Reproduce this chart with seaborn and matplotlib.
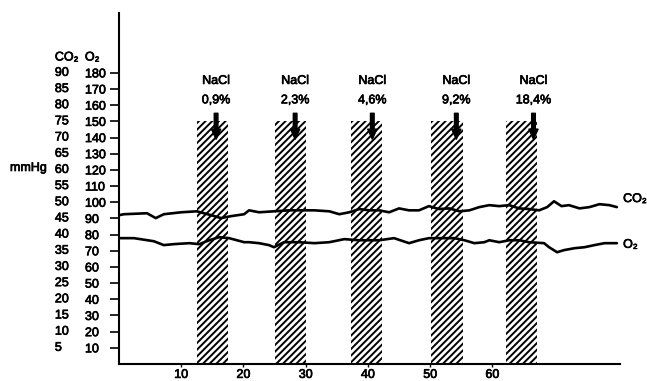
import numpy as np
import pandas as pd
import seaborn as sns
import matplotlib.pyplot as plt
import matplotlib.patheffects as pe

# time axis (min) and traces
co2_x = [0.0, 0.8, 4.5, 5.9, 7.2, 10.0, 12.5, 14.8, 16.4, 18.0, 20.1, 20.9, 22.5, 24.9,
         27.3, 29.7, 31.4, 33.8, 35.4, 37.0, 38.6, 40.2, 41.8, 43.4, 45.0, 46.6, 48.2,
         49.8, 51.4, 53.1, 54.7, 56.3, 57.9, 59.5, 61.1, 62.7, 64.3, 65.9, 67.5, 68.8,
         69.9, 71.1, 72.3, 74.0, 75.6, 77.2, 78.8, 80.0]
co2_y = [46.0, 46.3, 46.6, 45.1, 46.3, 46.9, 47.2, 46.0, 45.1, 45.7, 46.3, 47.5, 46.9, 47.2,
         47.5, 47.5, 47.5, 47.2, 46.3, 46.9, 47.9, 47.5, 47.5, 46.9, 48.1, 47.5, 47.5,
         48.8, 47.9, 48.1, 47.2, 47.5, 48.5, 49.1, 48.8, 49.1, 48.1, 47.9, 47.5, 48.5,
         50.3, 48.8, 49.1, 48.1, 48.5, 49.4, 49.1, 48.5]

o2_x = [0.0, 2.4, 5.6, 7.2, 8.8, 11.3, 12.9, 14.5, 16.1, 17.7, 20.1, 20.9, 22.5, 24.1,
        24.9, 26.5, 28.9, 31.4, 33.8, 36.2, 38.6, 40.2, 41.8, 44.2, 46.6, 48.2, 49.8,
        52.3, 53.9, 55.5, 57.1, 58.7, 59.5, 61.1, 62.7, 64.3, 65.9, 68.3, 69.1, 70.4,
        71.5, 73.2, 74.8, 76.4, 78.0, 80.0]
o2_y = [77.8, 77.8, 75.9, 73.5, 74.1, 74.7, 74.1, 76.5, 78.4, 77.8, 75.3, 75.3, 74.7, 73.5,
        72.2, 75.3, 75.3, 74.7, 75.3, 77.2, 76.5, 76.5, 76.5, 77.8, 74.7, 76.5, 77.8,
        77.8, 77.8, 76.5, 74.7, 75.3, 76.5, 75.3, 76.5, 76.5, 75.3, 74.7, 72.2, 69.1,
        70.4, 71.6, 72.2, 73.5, 74.7, 74.7]

# NaCl infusions
nacl_labels = ["0,9%", "2,3%", "4,6%", "9,2%", "18,4%"]
band_start = [12.5, 25.0, 37.2, 50.2, 62.2]
band_width = 5.0
band_top = 150
arrow_x = [15.6, 28.3, 40.7, 54.2, 66.6]

o2_ticks = list(range(10, 190, 10))
co2_ticks = list(range(5, 95, 5))
x_ticks = [10, 20, 30, 40, 50, 60]

sns.set_theme(style="white")
plt.rcParams['font.family'] = ['Liberation Sans', 'DejaVu Sans']
plt.rcParams['text.color'] = 'black'
plt.rcParams['xtick.color'] = 'black'
plt.rcParams['ytick.color'] = 'black'
plt.rcParams['hatch.linewidth'] = 1.4
plt.rcParams['hatch.color'] = 'black'

fig = plt.figure(figsize=(6.47, 3.81), dpi=100)
ax = fig.add_axes([119/647, 1-364/381, 501/647, 351/381])

fs = 9
heavy = [pe.withStroke(linewidth=0.5, foreground="black")]  # scanned print looks heavier

ax.bar(band_start, [band_top]*len(band_start), width=band_width, align='edge',
       color='white', edgecolor='black', hatch='/////', linewidth=0, zorder=1)

df_co2 = pd.DataFrame({"t": co2_x, "val": np.array(co2_y) * 2})  # CO2 scale is half of O2 scale
df_o2 = pd.DataFrame({"t": o2_x, "val": o2_y})
sns.lineplot(data=df_co2, x="t", y="val", color="black", lw=1.9, ax=ax, zorder=3)
sns.lineplot(data=df_o2, x="t", y="val", color="black", lw=1.9, ax=ax, zorder=3)

texts = []
for xa, lab in zip(arrow_x, nacl_labels):
    ax.annotate("", xy=(xa, 139), xytext=(xa, 155),
                arrowprops=dict(arrowstyle="simple,head_width=0.55,head_length=0.6,tail_width=0.22",
                                color="black", shrinkA=0, shrinkB=0), zorder=4)
    texts.append(ax.text(xa, 175, "NaCl", ha="center", va="center", fontsize=fs))
    texts.append(ax.text(xa, 163, lab, ha="center", va="center", fontsize=fs))

texts.append(ax.text(81.0, co2_y[-1] * 2 + 5, "CO₂", ha="left", va="center", fontsize=fs, clip_on=False))
texts.append(ax.text(81.0, o2_y[-1] - 1, "O₂", ha="left", va="center", fontsize=fs, clip_on=False))

ax.set_xlim(0, 80.5)
ax.set_ylim(0, 217)
ax.set_xlabel("")
ax.set_ylabel("")

ax.set_yticks(o2_ticks)
ax.set_yticklabels([str(v) for v in o2_ticks], fontsize=fs)
for lbl in ax.get_yticklabels():
    lbl.set_horizontalalignment("left")
ax.tick_params(axis="y", direction="out", length=6.5, width=1.2, pad=18, left=True)

ax.set_xticks(x_ticks)
ax.set_xticklabels([str(v) for v in x_ticks], fontsize=fs)
ax.tick_params(axis="x", direction="out", length=2, width=1, pad=1.5, bottom=True)

for v in co2_ticks:
    texts.append(ax.text(-0.128, v * 2, str(v), transform=ax.get_yaxis_transform(),
                         ha="left", va="center", fontsize=fs))
texts.append(ax.text(-0.128, 189.5, "CO₂", transform=ax.get_yaxis_transform(), ha="left", va="center", fontsize=fs))
texts.append(ax.text(-0.068, 189.5, "O₂", transform=ax.get_yaxis_transform(), ha="left", va="center", fontsize=fs))
texts.append(fig.text(10/647, 1-168/381, "mmHg", ha="left", va="center", fontsize=fs))

for t in texts + ax.get_yticklabels() + ax.get_xticklabels():
    t.set_path_effects(heavy)

sns.despine(ax=ax)
for s in ["left", "bottom"]:
    ax.spines[s].set_color("black")
    ax.spines[s].set_linewidth(1.5)

plt.savefig("out.png", dpi=100)
